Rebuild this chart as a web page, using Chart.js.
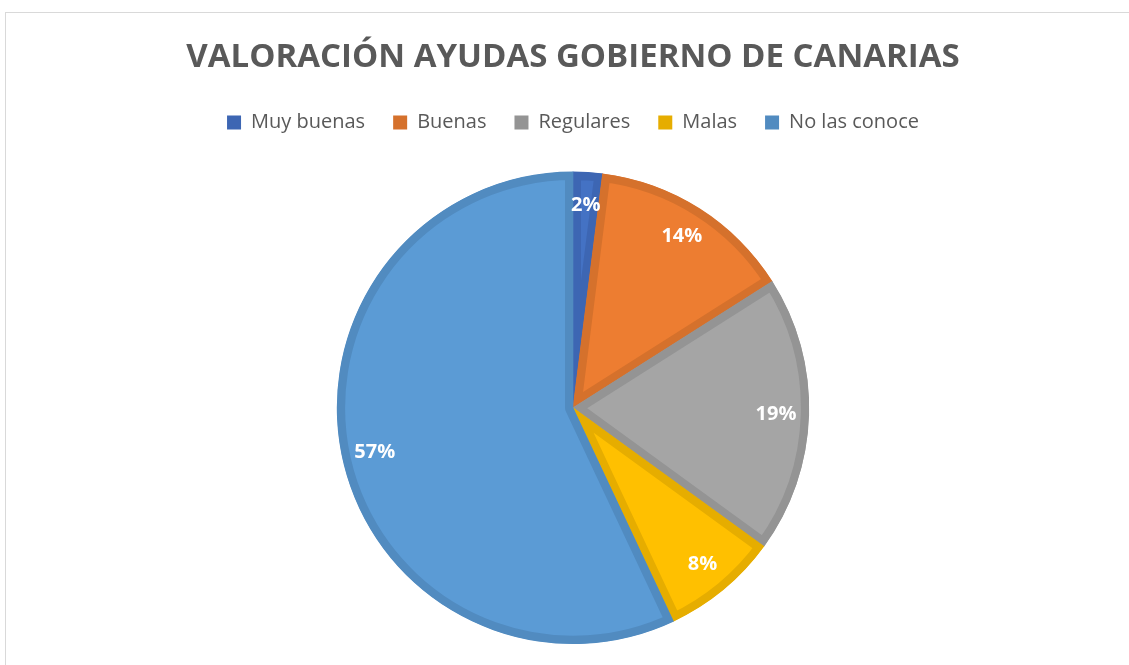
<!DOCTYPE html>
<html>
<head>
<meta charset="utf-8">
<script src="https://cdn.jsdelivr.net/npm/chart.js@4"></script>
<style>
    html, body { margin: 0; padding: 0; background: #ffffff; }
    .frame {
        position: absolute; left: 5px; top: 12px; width: 1130px; height: 660px;
        border-top: 1px solid #d9d9d9; border-left: 1px solid #d9d9d9;
    }
    .wrap { position: absolute; left: 0; top: 0; width: 1129px; height: 665px; }
</style>
</head>
<body>
<div class="frame"></div>
<div class="wrap"><canvas id="valoracionChart"></canvas></div>
<script>
/* Valoracion ayudas - pie chart */
const categorias = ['Muy buenas', 'Buenas', 'Regulares', 'Malas', 'No las conoce'];
const porcentajes = [2, 14, 19, 8, 57];
const colores = ['#4472c4', '#ed7d31', '#a5a5a5', '#ffc000', '#5b9bd5'];
const bordes = ['#3d66b3', '#d5712c', '#949494', '#e6ad00', '#518bc0'];

// percentage labels inside each slice
const etiquetas = {
    id: 'etiquetas',
    afterDatasetsDraw(chart) {
        const { ctx } = chart;
        const meta = chart.getDatasetMeta(0);
        ctx.save();
        ctx.fillStyle = '#ffffff';
        ctx.font = 'bold 20px "Open Sans"';
        ctx.textAlign = 'center';
        ctx.textBaseline = 'middle';
        meta.data.forEach((arc, i) => {
            const p = arc.getProps(['x', 'y', 'startAngle', 'endAngle', 'outerRadius'], true);
            const mid = (p.startAngle + p.endAngle) / 2;
            const r = p.outerRadius * 0.86;
            ctx.fillText(porcentajes[i] + '%', p.x + Math.cos(mid) * r, p.y + Math.sin(mid) * r);
        });
        ctx.restore();
    }
};

// extra space under the legend
const espacioLeyenda = {
    id: 'espacioLeyenda',
    beforeInit(chart) {
        const fit = chart.legend.fit;
        chart.legend.fit = function () {
            fit.bind(chart.legend)();
            this.height += 29;
        };
    }
};

document.addEventListener('DOMContentLoaded', () => {
    const ctx = document.getElementById('valoracionChart');
    new Chart(ctx, {
        type: 'pie',
        data: {
            labels: categorias,
            datasets: [{
                data: porcentajes,
                backgroundColor: colores,
                borderColor: bordes,
                borderWidth: 8,
                borderAlign: 'inner',
                hoverOffset: 0
            }]
        },
        options: {
            responsive: true,
            maintainAspectRatio: false,
            animation: false,
            layout: { padding: { top: 0, left: 17, right: 0, bottom: 21 } },
            plugins: {
                title: {
                    display: true,
                    text: 'VALORACIÓN AYUDAS GOBIERNO DE CANARIAS',
                    color: '#595959',
                    font: { family: '"Open Sans"', size: 33, weight: 'bold' },
                    padding: { top: 38, bottom: 7 }
                },
                legend: {
                    position: 'top',
                    labels: {
                        color: '#595959',
                        font: { family: '"Open Sans"', size: 20 },
                        boxWidth: 14,
                        boxHeight: 14,
                        padding: 28,
                        generateLabels(chart) {
                            const items = Chart.overrides.pie.plugins.legend.labels.generateLabels(chart);
                            items.forEach((it, i) => {
                                it.fillStyle = bordes[i];
                                it.strokeStyle = bordes[i];
                                it.lineWidth = 0;
                            });
                            return items;
                        }
                    }
                },
                tooltip: { enabled: false }
            }
        },
        plugins: [etiquetas, espacioLeyenda]
    });
});
</script>
</body>
</html>
